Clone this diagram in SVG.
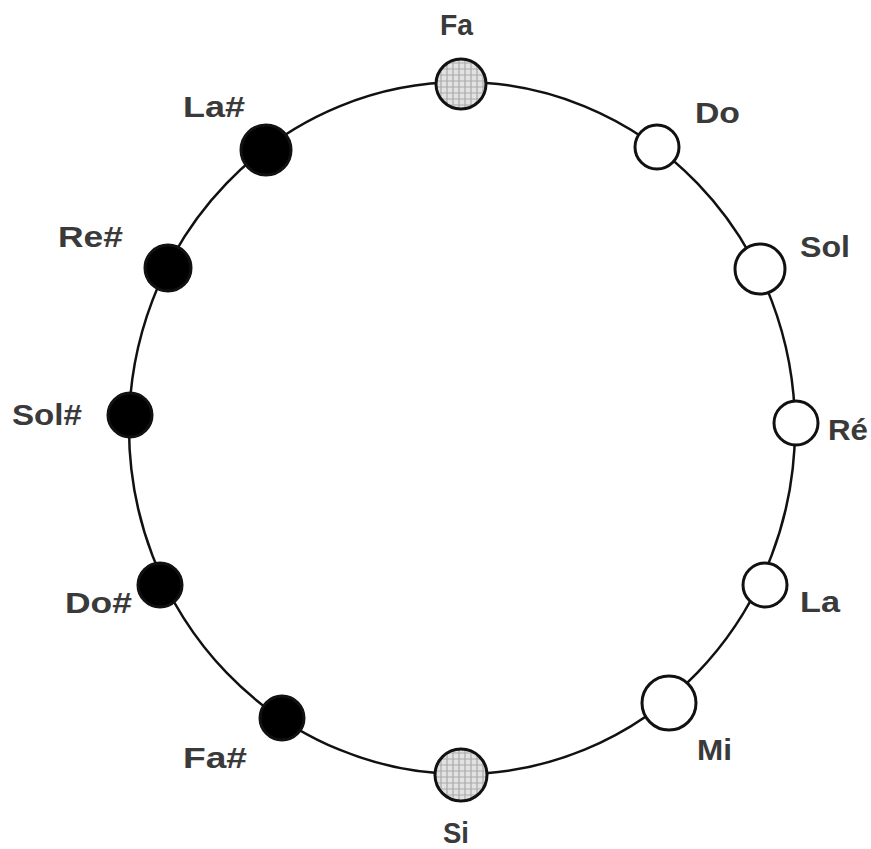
<svg xmlns="http://www.w3.org/2000/svg" width="871" height="849" viewBox="0 0 871 849">
<style>
.ring{fill:none;stroke:#111;stroke-width:2.5}
.n{stroke:#111;stroke-width:3}
.w{fill:#fff}
.b{fill:#000}
.g{fill:url(#hatch)}
.t{font-family:"Liberation Sans",Arial,sans-serif;font-size:30px;font-weight:bold;fill:#3a3a3a}
</style>
<defs>
<pattern id="hatch" width="6" height="6" patternUnits="userSpaceOnUse">
<rect width="6" height="6" fill="#e2e2e2"/>
<path d="M3 0V6M0 3H6" stroke="#aaa" stroke-width="1.2"/>
</pattern>
</defs>
<rect width="871" height="849" fill="#fff"/>
<g id="connectors">
<ellipse class="ring" cx="462" cy="428" rx="333" ry="346"/>
</g>
<g id="fa"><circle class="n g" cx="461" cy="84" r="25"/><text class="t" x="440" y="35" textLength="33" lengthAdjust="spacingAndGlyphs">Fa</text></g>
<g id="do"><circle class="n w" cx="657" cy="147" r="22"/><text class="t" x="695" y="123" textLength="45" lengthAdjust="spacingAndGlyphs">Do</text></g>
<g id="sol"><circle class="n w" cx="760" cy="269" r="25"/><text class="t" x="800" y="257" textLength="50" lengthAdjust="spacingAndGlyphs">Sol</text></g>
<g id="re"><circle class="n w" cx="796" cy="423" r="22"/><text class="t" x="828" y="440" textLength="40" lengthAdjust="spacingAndGlyphs">Ré</text></g>
<g id="la"><circle class="n w" cx="765" cy="585" r="22"/><text class="t" x="800" y="612" textLength="40" lengthAdjust="spacingAndGlyphs">La</text></g>
<g id="mi"><circle class="n w" cx="669" cy="703" r="27"/><text class="t" x="697" y="760" textLength="35" lengthAdjust="spacingAndGlyphs">Mi</text></g>
<g id="si"><circle class="n g" cx="461" cy="775" r="26"/><text class="t" x="443" y="843" textLength="26" lengthAdjust="spacingAndGlyphs">Si</text></g>
<g id="fas"><circle class="n b" cx="282" cy="718" r="22"/><text class="t" x="183" y="768" textLength="64" lengthAdjust="spacingAndGlyphs">Fa#</text></g>
<g id="dos"><circle class="n b" cx="160" cy="585" r="22"/><text class="t" x="65" y="613" textLength="67" lengthAdjust="spacingAndGlyphs">Do#</text></g>
<g id="sols"><circle class="n b" cx="130" cy="415" r="22"/><text class="t" x="12" y="425" textLength="70" lengthAdjust="spacingAndGlyphs">Sol#</text></g>
<g id="res"><circle class="n b" cx="168" cy="268" r="23"/><text class="t" x="58" y="247" textLength="65" lengthAdjust="spacingAndGlyphs">Re#</text></g>
<g id="las"><circle class="n b" cx="266" cy="150" r="25"/><text class="t" x="183" y="117" textLength="62" lengthAdjust="spacingAndGlyphs">La#</text></g>
</svg>
